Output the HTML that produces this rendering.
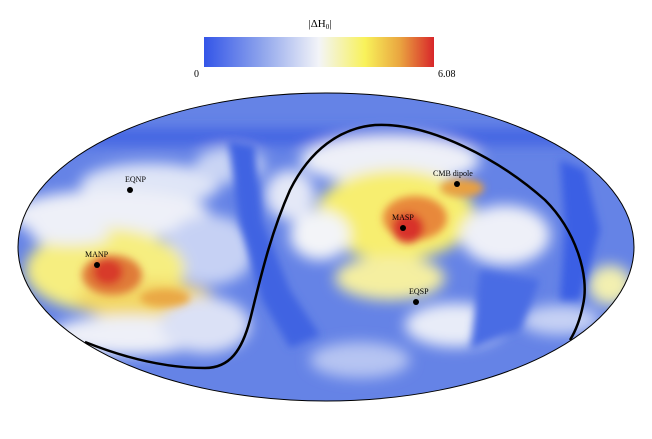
<!DOCTYPE html>
<html><head><meta charset="utf-8"><style>
html,body{margin:0;padding:0;background:#fff;width:652px;height:439px;overflow:hidden}
svg{display:block}
text{font-family:"Liberation Serif",serif;fill:#000}
</style></head><body>
<svg width="652" height="439" viewBox="0 0 652 439" xmlns="http://www.w3.org/2000/svg">
<defs>
<linearGradient id="cb" x1="0" x2="1" y1="0" y2="0">
<stop offset="0" stop-color="#3355e8"/>
<stop offset="0.25" stop-color="#8ea4ec"/>
<stop offset="0.5" stop-color="#f3f4f8"/>
<stop offset="0.7" stop-color="#f8f25a"/>
<stop offset="0.85" stop-color="#eaa640"/>
<stop offset="1" stop-color="#d8262a"/>
</linearGradient>
<clipPath id="cl"><ellipse cx="326" cy="247" rx="308" ry="154"/></clipPath>
<filter id="b" x="-20%" y="-20%" width="140%" height="140%"><feGaussianBlur stdDeviation="7"/></filter>
<filter id="b2" x="-20%" y="-20%" width="140%" height="140%"><feGaussianBlur stdDeviation="4"/></filter>
</defs>
<text x="320" y="27" font-size="11" text-anchor="middle">|ΔH<tspan font-size="7" dy="2">0</tspan><tspan dy="-2">|</tspan></text>
<rect x="204" y="37" width="230" height="30" fill="url(#cb)"/>
<text x="194" y="77" font-size="10">0</text>
<text x="438" y="77" font-size="10">6.08</text>
<g clip-path="url(#cl)">
<rect x="0" y="80" width="652" height="340" fill="#6583e6"/>
<g filter="url(#b)">
<rect x="0" y="130" width="652" height="14" fill="#3d5fe2"/>
<ellipse cx="150" cy="185" rx="70" ry="22" fill="#dfe5f7"/>
<ellipse cx="230" cy="165" rx="35" ry="18" fill="#c9d4f4"/>
<ellipse cx="110" cy="215" rx="100" ry="25" fill="#eef0f8"/>
<ellipse cx="210" cy="250" rx="45" ry="35" fill="#c6d1f4"/>
<ellipse cx="105" cy="270" rx="80" ry="42" fill="#f6ee80"/>
<ellipse cx="145" cy="300" rx="70" ry="20" fill="#f3d866"/>
<ellipse cx="70" cy="235" rx="40" ry="10" fill="#eef0f8"/>
<ellipse cx="130" cy="335" rx="80" ry="20" fill="#eef0f8"/>
<ellipse cx="205" cy="325" rx="45" ry="28" fill="#dbe1f6"/>
<ellipse cx="390" cy="160" rx="90" ry="25" fill="#eef0f8"/>
<ellipse cx="395" cy="215" rx="80" ry="45" fill="#f7ee70"/>
<ellipse cx="320" cy="235" rx="30" ry="25" fill="#f3f4f8"/>
<ellipse cx="390" cy="278" rx="55" ry="22" fill="#f5efa0"/>
<ellipse cx="505" cy="235" rx="45" ry="30" fill="#eef0f8"/>
<ellipse cx="455" cy="325" rx="50" ry="22" fill="#e8ecf8"/>
<ellipse cx="360" cy="360" rx="50" ry="18" fill="#b6c4f2"/>
<ellipse cx="610" cy="285" rx="22" ry="20" fill="#f3f0b0"/>
<ellipse cx="290" cy="195" rx="25" ry="25" fill="#e4e8f7"/>
<ellipse cx="560" cy="320" rx="40" ry="15" fill="#c6d1f4"/>
</g>
<g filter="url(#b2)">
<path d="M228 140 L255 145 L262 220 L290 290 L320 335 L290 348 L262 300 L240 225 Z" fill="#4064e2"/>
<path d="M560 160 L585 170 L600 230 L580 300 L560 300 L565 230 Z" fill="#3b5ee4"/>
<path d="M480 270 L540 280 L520 330 L470 350 Z" fill="#4a6ce4"/>
<ellipse cx="112" cy="275" rx="30" ry="20" fill="#e07a38"/>
<ellipse cx="165" cy="298" rx="25" ry="9" fill="#eaa845"/>
<ellipse cx="108" cy="272" rx="15" ry="13" fill="#d83a2a"/>
<ellipse cx="415" cy="218" rx="32" ry="22" fill="#e8883a"/>
<ellipse cx="462" cy="188" rx="22" ry="9" fill="#e9a040"/>
<ellipse cx="408" cy="228" rx="16" ry="15" fill="#d8302a"/>
</g>
</g>
<ellipse cx="326" cy="247" rx="308" ry="154" fill="none" stroke="#000" stroke-width="1"/>
<path d="M85 342 C130 360 170 368 205 368 C230 368 242 350 250 320 C260 280 270 235 290 190 C310 150 340 128 375 125 C430 122 500 160 545 200 C575 230 590 275 583 305 C580 320 575 332 570 340" fill="none" stroke="#000" stroke-width="2.5"/>
<g font-size="8">
<circle cx="130" cy="190" r="3"/><text x="125" y="182">EQNP</text>
<circle cx="97" cy="265" r="3"/><text x="85" y="257">MANP</text>
<circle cx="403" cy="228" r="3"/><text x="392" y="220">MASP</text>
<circle cx="457" cy="184" r="3"/><text x="433" y="176">CMB dipole</text>
<circle cx="416" cy="302" r="3"/><text x="409" y="294">EQSP</text>
</g>
</svg>
</body></html>
